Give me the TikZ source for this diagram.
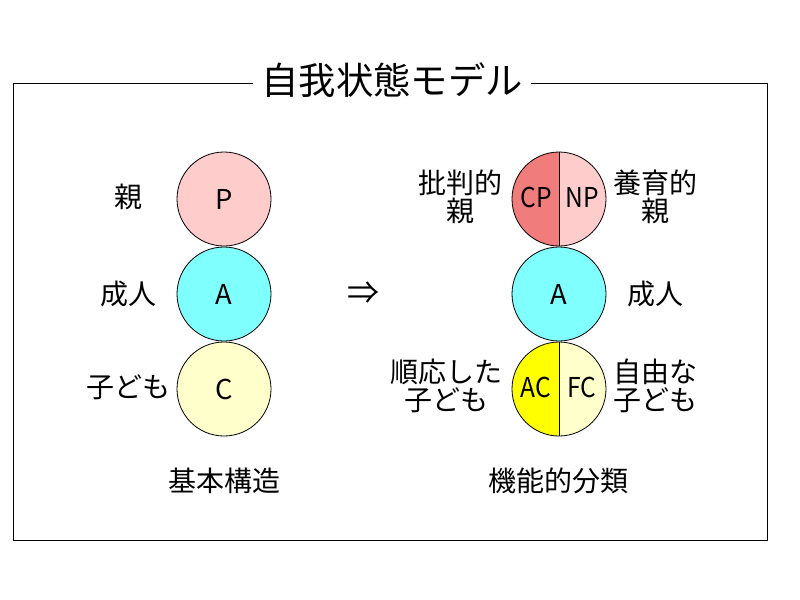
\documentclass[tikz,border=0pt]{standalone}
\usepackage{fontspec}
\setmainfont{Noto Sans CJK JP}
\usetikzlibrary{positioning}
\definecolor{ppink}{RGB}{255,204,204}
\definecolor{acyan}{RGB}{128,255,255}
\definecolor{cyellow}{RGB}{255,255,204}
\definecolor{cpred}{RGB}{241,124,124}
\definecolor{acyellow}{RGB}{255,255,0}
\tikzset{
  ego/.style={circle, draw, line width=0.6pt, minimum size=70.5pt, inner sep=0pt, font=\fontsize{20.5}{20.5}\selectfont},
  half/.style={font=\fontsize{20.5}{20.5}\selectfont, inner sep=0pt, xscale=0.9},
  lbl/.style={align=center, inner sep=0pt, font=\fontsize{21}{21}\selectfont}
}

\begin{document}
\begin{tikzpicture}[x=0.75pt, y=-0.75pt]
\useasboundingbox (0,0) rectangle (800,600);
\draw[line width=0.6pt] (13,83) rectangle (767,540);
\node[fill=white, inner xsep=6.5pt, inner ysep=2pt, font=\fontsize{28}{28}\selectfont] (title) at (392,80) {自我状態モデル};

% 基本構造
\node[ego, fill=ppink] (p) at (224,199) {P};
\node[ego, fill=acyan] (a) at (224,294) {A};
\node[ego, fill=cyellow] (c) at (224,389) {C};
\node[lbl] (oya) at (128,197) {親};
\node[lbl] (seijin) at (128,294) {成人};
\node[lbl] (kodomo) at (128,387) {子ども};
\node[lbl] (kihon) at (224,481) {基本構造};

\node[lbl, font=\fontsize{24}{24}\selectfont] (yaji) at (363,293) {⇒};

% 機能的分類
\node[ego, fill=ppink, path picture={\fill[cpred] (path picture bounding box.north west) rectangle (path picture bounding box.south);}] (pp) at (559,199) {};
\node[ego, fill=acyan] (aa) at (559,294) {A};
\node[ego, fill=cyellow, path picture={\fill[acyellow] (path picture bounding box.north west) rectangle (path picture bounding box.south);}] (cc) at (559,389) {};
\draw[line width=0.6pt] (pp.north) -- (pp.south);
\draw[line width=0.6pt] (cc.north) -- (cc.south);
\node[half] (cp) at (536,197) {CP};
\node[half] (np) at (582,197) {NP};
\node[half] (ac) at (536,387) {AC};
\node[half] (fc) at (582,387) {FC};

\node[lbl] (hihan) at (460,197) {批判的\\親};
\node[lbl] (youiku) at (655,197) {養育的\\親};
\node[lbl] (seijin2) at (655,294) {成人};
\node[lbl] (junnou) at (446,386) {順応した\\子ども};
\node[lbl] (jiyuu) at (655,386) {自由な\\子ども};
\node[lbl] (kinou) at (558,481) {機能的分類};
\end{tikzpicture}
\end{document}
